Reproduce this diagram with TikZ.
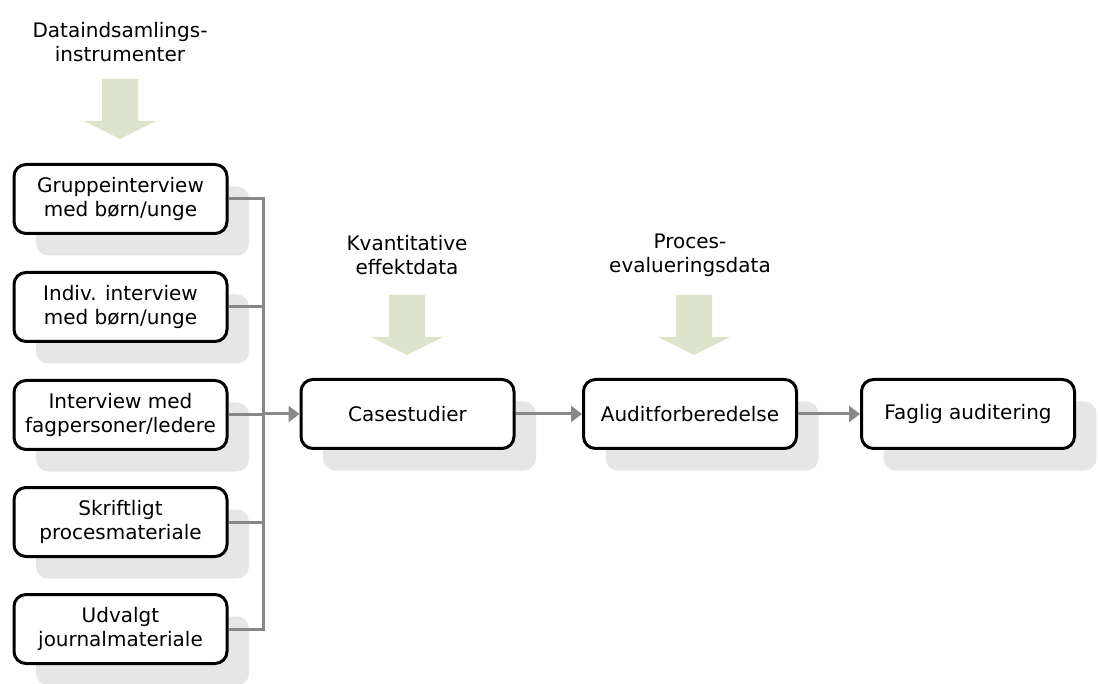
\documentclass[tikz,border=0pt]{standalone}
\usepackage{fontspec}
\setmainfont{DejaVu Sans}
\usepackage{tikz}
\usetikzlibrary{arrows.meta,shadows}

\definecolor{shadowgray}{HTML}{E6E6E6}
\definecolor{arrowgreen}{HTML}{DEE3CC}
\definecolor{linegray}{HTML}{888888}

\tikzset{
  box/.style={draw=black, fill=white, line width=3pt, rounded corners=12pt,
    minimum width=213pt, minimum height=69pt, align=center, inner sep=2pt,
    drop shadow={shadow xshift=22pt, shadow yshift=-22pt, opacity=1, fill=shadowgray}},
  label/.style={align=center},
  conn/.style={draw=linegray, line width=3pt},
  flow/.style={conn, -{Triangle[length=11pt,width=16pt]}}
}

% big green block arrow: x of centre, y of top
\newcommand{\bigarrow}[2]{
  \fill[arrowgreen] (#1-18,#2) -- (#1+18,#2) -- (#1+18,#2+42) -- (#1+36,#2+42)
    -- (#1,#2+60) -- (#1-36,#2+42) -- (#1-18,#2+42) -- cycle;
}

\begin{document}
\begin{tikzpicture}[x=1pt, y=-1pt, font=\fontsize{20}{24}\selectfont]
    \useasboundingbox (0,0) rectangle (1098,684);

    % headings
    \node[label] (hdata) at (120,42) {Dataindsamlings-\\instrumenter};
    \node[label] (hkvant) at (407,255) {Kvantitative\\effektdata};
    \node[label] (hproc) at (690,255) {Proces-\\evalueringsdata};

    \bigarrow{120}{79}
    \bigarrow{407}{295}
    \bigarrow{694}{295}

    % data sources
    \node[box] (grp) at (120.5,199) {Gruppeinterview\\med børn/unge};
    \node[box] (indiv) at (120.5,307) {Indiv. interview\\med børn/unge};
    \node[box] (fag) at (120.5,415) {Interview med\\fagpersoner/ledere};
    \node[box] (skrift) at (120.5,522) {Skriftligt\\procesmateriale};
    \node[box] (journal) at (120.5,629) {Udvalgt\\journalmateriale};

    % process
    \node[box] (case) at (407.5,414) {Casestudier};
    \node[box] (audit) at (690,414) {Auditforberedelse};
    \node[box] (faglig) at (968,414) {Faglig auditering};

    \coordinate (bus) at (263,415);
    \draw[conn] (grp.east) -| (journal.east -| bus) -- (journal.east);
    \foreach \n in {indiv,fag,skrift}
      \draw[conn] (\n.east) -- (\n.east -| bus);
    \draw[flow] (bus |- case.west) -- (case.west);
    \draw[flow] (case.east) -- (audit.west);
    \draw[flow] (audit.east) -- (faglig.west);
\end{tikzpicture}
\end{document}
